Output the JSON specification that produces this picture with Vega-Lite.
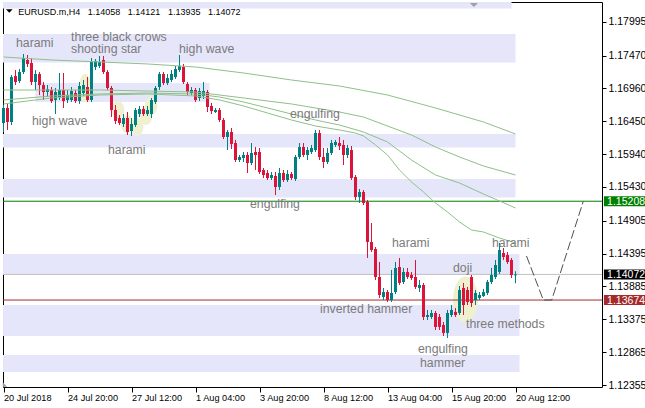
{
  "$schema": "https://vega.github.io/schema/vega-lite/v6.json",
  "width": 599,
  "height": 385,
  "autosize": {"type": "none"},
  "padding": {"left": 3, "top": 2, "right": 43, "bottom": 21},
  "background": "white",
  "config": {"font": "Liberation Sans", "view": {"stroke": "#000000", "strokeWidth": 1}},
  "datasets": {
    "bands": [
      {"x0": -1, "x1": 127, "y0": 1.18200, "y1": 1.18320},
      {"x0": -1, "x1": 128, "y0": 1.17362, "y1": 1.17804},
      {"x0": 8, "x1": 51.5, "y0": 1.16749, "y1": 1.17044},
      {"x0": -1, "x1": 128, "y0": 1.16042, "y1": 1.16252},
      {"x0": -1, "x1": 128, "y0": 1.15266, "y1": 1.15553},
      {"x0": -1, "x1": 129, "y0": 1.14063, "y1": 1.14389},
      {"x0": -1, "x1": 129, "y0": 1.13116, "y1": 1.13597},
      {"x0": -1, "x1": 129, "y0": 1.12557, "y1": 1.12821}
    ],
    "candles": [
      {"i":0,"o":1.16422,"h":1.16702,"l":1.16283,"c":1.16656},
      {"i":1,"o":1.16656,"h":1.16718,"l":1.16314,"c":1.16438},
      {"i":2,"o":1.16438,"h":1.17167,"l":1.16391,"c":1.17136},
      {"i":3,"o":1.17152,"h":1.17245,"l":1.17012,"c":1.17059},
      {"i":4,"o":1.17074,"h":1.17261,"l":1.17043,"c":1.17214},
      {"i":5,"o":1.17214,"h":1.17494,"l":1.17183,"c":1.17432},
      {"i":6,"o":1.17401,"h":1.17478,"l":1.17292,"c":1.17339},
      {"i":7,"o":1.17354,"h":1.17432,"l":1.17012,"c":1.17059},
      {"i":8,"o":1.17059,"h":1.17245,"l":1.16935,"c":1.17183},
      {"i":9,"o":1.17183,"h":1.17214,"l":1.16857,"c":1.17012},
      {"i":10,"o":1.17012,"h":1.17059,"l":1.16780,"c":1.16904},
      {"i":11,"o":1.16904,"h":1.17012,"l":1.16826,"c":1.16950},
      {"i":12,"o":1.16935,"h":1.16981,"l":1.16733,"c":1.16764},
      {"i":13,"o":1.16780,"h":1.16966,"l":1.16562,"c":1.16904},
      {"i":14,"o":1.16826,"h":1.17199,"l":1.16780,"c":1.16935},
      {"i":15,"o":1.16935,"h":1.17199,"l":1.16656,"c":1.16764},
      {"i":16,"o":1.16780,"h":1.16935,"l":1.16733,"c":1.16857},
      {"i":17,"o":1.16780,"h":1.16981,"l":1.16749,"c":1.16919},
      {"i":18,"o":1.16888,"h":1.16935,"l":1.16733,"c":1.16764},
      {"i":19,"o":1.16764,"h":1.17059,"l":1.16718,"c":1.16997},
      {"i":20,"o":1.16888,"h":1.17090,"l":1.16842,"c":1.17012},
      {"i":21,"o":1.16981,"h":1.17136,"l":1.16749,"c":1.16780},
      {"i":22,"o":1.16780,"h":1.17432,"l":1.16749,"c":1.17370},
      {"i":23,"o":1.17292,"h":1.17416,"l":1.17245,"c":1.17385},
      {"i":24,"o":1.17308,"h":1.17463,"l":1.17277,"c":1.17370},
      {"i":25,"o":1.17401,"h":1.17463,"l":1.17183,"c":1.17214},
      {"i":26,"o":1.17214,"h":1.17245,"l":1.16935,"c":1.16966},
      {"i":27,"o":1.16966,"h":1.16997,"l":1.16515,"c":1.16624},
      {"i":28,"o":1.16624,"h":1.16702,"l":1.16407,"c":1.16453},
      {"i":29,"o":1.16500,"h":1.16546,"l":1.16391,"c":1.16422},
      {"i":30,"o":1.16407,"h":1.16562,"l":1.16360,"c":1.16500},
      {"i":31,"o":1.16500,"h":1.16593,"l":1.16236,"c":1.16283},
      {"i":32,"o":1.16298,"h":1.16500,"l":1.16221,"c":1.16407},
      {"i":33,"o":1.16391,"h":1.16656,"l":1.16360,"c":1.16624},
      {"i":34,"o":1.16562,"h":1.16687,"l":1.16515,"c":1.16640},
      {"i":35,"o":1.16640,"h":1.16687,"l":1.16531,"c":1.16562},
      {"i":36,"o":1.16562,"h":1.16687,"l":1.16531,"c":1.16624},
      {"i":37,"o":1.16562,"h":1.16811,"l":1.16500,"c":1.16780},
      {"i":38,"o":1.16749,"h":1.16997,"l":1.16718,"c":1.16966},
      {"i":39,"o":1.16981,"h":1.17214,"l":1.16935,"c":1.17183},
      {"i":40,"o":1.17183,"h":1.17214,"l":1.17012,"c":1.17043},
      {"i":41,"o":1.17043,"h":1.17183,"l":1.17012,"c":1.17121},
      {"i":42,"o":1.17090,"h":1.17245,"l":1.17059,"c":1.17183},
      {"i":43,"o":1.17136,"h":1.17308,"l":1.17105,"c":1.17261},
      {"i":44,"o":1.17245,"h":1.17478,"l":1.17214,"c":1.17308},
      {"i":45,"o":1.17292,"h":1.17339,"l":1.17028,"c":1.17059},
      {"i":46,"o":1.17028,"h":1.17059,"l":1.16857,"c":1.16904},
      {"i":47,"o":1.16888,"h":1.16981,"l":1.16857,"c":1.16935},
      {"i":48,"o":1.16935,"h":1.16966,"l":1.16749,"c":1.16780},
      {"i":49,"o":1.16811,"h":1.16966,"l":1.16764,"c":1.16919},
      {"i":50,"o":1.16842,"h":1.17059,"l":1.16795,"c":1.16919},
      {"i":51,"o":1.16904,"h":1.16935,"l":1.16593,"c":1.16671},
      {"i":52,"o":1.16687,"h":1.16733,"l":1.16562,"c":1.16608},
      {"i":53,"o":1.16593,"h":1.16656,"l":1.16577,"c":1.16624},
      {"i":54,"o":1.16624,"h":1.16656,"l":1.16438,"c":1.16469},
      {"i":55,"o":1.16469,"h":1.16500,"l":1.16174,"c":1.16205},
      {"i":56,"o":1.16205,"h":1.16314,"l":1.16003,"c":1.16283},
      {"i":57,"o":1.16283,"h":1.16345,"l":1.16019,"c":1.16097},
      {"i":58,"o":1.16112,"h":1.16159,"l":1.15817,"c":1.15848},
      {"i":59,"o":1.15848,"h":1.15926,"l":1.15817,"c":1.15895},
      {"i":60,"o":1.15879,"h":1.15972,"l":1.15817,"c":1.15926},
      {"i":61,"o":1.15926,"h":1.15972,"l":1.15646,"c":1.15801},
      {"i":62,"o":1.15801,"h":1.16112,"l":1.15770,"c":1.15957},
      {"i":63,"o":1.15972,"h":1.16050,"l":1.15693,"c":1.15926},
      {"i":64,"o":1.15972,"h":1.16034,"l":1.15631,"c":1.15662},
      {"i":65,"o":1.15693,"h":1.15724,"l":1.15569,"c":1.15615},
      {"i":66,"o":1.15646,"h":1.15693,"l":1.15538,"c":1.15569},
      {"i":67,"o":1.15569,"h":1.15662,"l":1.15538,"c":1.15615},
      {"i":68,"o":1.15600,"h":1.15662,"l":1.15304,"c":1.15429},
      {"i":69,"o":1.15429,"h":1.15724,"l":1.15382,"c":1.15646},
      {"i":70,"o":1.15646,"h":1.15693,"l":1.15507,"c":1.15538},
      {"i":71,"o":1.15538,"h":1.15693,"l":1.15507,"c":1.15631},
      {"i":72,"o":1.15631,"h":1.15662,"l":1.15538,"c":1.15569},
      {"i":73,"o":1.15553,"h":1.15926,"l":1.15522,"c":1.15895},
      {"i":74,"o":1.15895,"h":1.16112,"l":1.15864,"c":1.16050},
      {"i":75,"o":1.16050,"h":1.16112,"l":1.15895,"c":1.15926},
      {"i":76,"o":1.15926,"h":1.16050,"l":1.15848,"c":1.16003},
      {"i":77,"o":1.15972,"h":1.16081,"l":1.15941,"c":1.16034},
      {"i":78,"o":1.16003,"h":1.16314,"l":1.15972,"c":1.16267},
      {"i":79,"o":1.16267,"h":1.16314,"l":1.15848,"c":1.15895},
      {"i":80,"o":1.15895,"h":1.16034,"l":1.15724,"c":1.15817},
      {"i":81,"o":1.15817,"h":1.16034,"l":1.15786,"c":1.15957},
      {"i":82,"o":1.15957,"h":1.16159,"l":1.15926,"c":1.16112},
      {"i":83,"o":1.16081,"h":1.16159,"l":1.16050,"c":1.16128},
      {"i":84,"o":1.16112,"h":1.16205,"l":1.16003,"c":1.16065},
      {"i":85,"o":1.16081,"h":1.16159,"l":1.15770,"c":1.15926},
      {"i":86,"o":1.15926,"h":1.16081,"l":1.15879,"c":1.16034},
      {"i":87,"o":1.16003,"h":1.16065,"l":1.15538,"c":1.15569},
      {"i":88,"o":1.15584,"h":1.15615,"l":1.15227,"c":1.15274},
      {"i":89,"o":1.15274,"h":1.15398,"l":1.15180,"c":1.15351},
      {"i":90,"o":1.15351,"h":1.15382,"l":1.15149,"c":1.15180},
      {"i":91,"o":1.15196,"h":1.15227,"l":1.14327,"c":1.14575},
      {"i":92,"o":1.14575,"h":1.14870,"l":1.14420,"c":1.14451},
      {"i":93,"o":1.14467,"h":1.14498,"l":1.13985,"c":1.14032},
      {"i":94,"o":1.14032,"h":1.14265,"l":1.13706,"c":1.13753},
      {"i":95,"o":1.13722,"h":1.13861,"l":1.13675,"c":1.13799},
      {"i":96,"o":1.13799,"h":1.13830,"l":1.13644,"c":1.13675},
      {"i":97,"o":1.13675,"h":1.14141,"l":1.13644,"c":1.13784},
      {"i":98,"o":1.13799,"h":1.14265,"l":1.13768,"c":1.14172},
      {"i":99,"o":1.14187,"h":1.14327,"l":1.13908,"c":1.13939},
      {"i":100,"o":1.13954,"h":1.14172,"l":1.13923,"c":1.14110},
      {"i":101,"o":1.14110,"h":1.14172,"l":1.14001,"c":1.14032},
      {"i":102,"o":1.14063,"h":1.14110,"l":1.13985,"c":1.14016},
      {"i":103,"o":1.14032,"h":1.14296,"l":1.13846,"c":1.13877},
      {"i":104,"o":1.13861,"h":1.13985,"l":1.13799,"c":1.13908},
      {"i":105,"o":1.13908,"h":1.13939,"l":1.13364,"c":1.13411},
      {"i":106,"o":1.13411,"h":1.13520,"l":1.13364,"c":1.13442},
      {"i":107,"o":1.13411,"h":1.13520,"l":1.13380,"c":1.13473},
      {"i":108,"o":1.13473,"h":1.13504,"l":1.13209,"c":1.13256},
      {"i":109,"o":1.13411,"h":1.13458,"l":1.13209,"c":1.13256},
      {"i":110,"o":1.13287,"h":1.13333,"l":1.13116,"c":1.13163},
      {"i":111,"o":1.13163,"h":1.13520,"l":1.13085,"c":1.13473},
      {"i":112,"o":1.13442,"h":1.13597,"l":1.13411,"c":1.13520},
      {"i":113,"o":1.13489,"h":1.13551,"l":1.13411,"c":1.13442},
      {"i":114,"o":1.13473,"h":1.13892,"l":1.13442,"c":1.13830},
      {"i":115,"o":1.13861,"h":1.13939,"l":1.13442,"c":1.13597},
      {"i":116,"o":1.13830,"h":1.13877,"l":1.13597,"c":1.13644},
      {"i":117,"o":1.14032,"h":1.14063,"l":1.13566,"c":1.13628},
      {"i":118,"o":1.13675,"h":1.13830,"l":1.13597,"c":1.13784},
      {"i":119,"o":1.13706,"h":1.13799,"l":1.13675,"c":1.13753},
      {"i":120,"o":1.13737,"h":1.13846,"l":1.13722,"c":1.13799},
      {"i":121,"o":1.13784,"h":1.13985,"l":1.13753,"c":1.13954},
      {"i":122,"o":1.13954,"h":1.14172,"l":1.13923,"c":1.14063},
      {"i":123,"o":1.14032,"h":1.14296,"l":1.14001,"c":1.14218},
      {"i":124,"o":1.14110,"h":1.14560,"l":1.14079,"c":1.14451},
      {"i":125,"o":1.14404,"h":1.14482,"l":1.14296,"c":1.14342},
      {"i":126,"o":1.14373,"h":1.14420,"l":1.14234,"c":1.14265},
      {"i":127,"o":1.14296,"h":1.14327,"l":1.14016,"c":1.14063},
      {"i":128,"o":1.14058,"h":1.14121,"l":1.13935,"c":1.14072}
    ],
    "ma": [
      {"ma":"A","i":0,"p":1.17447},{"ma":"A","i":12,"p":1.17401},{"ma":"A","i":24,"p":1.17370},{"ma":"A","i":36,"p":1.17339},{"ma":"A","i":48,"p":1.17292},{"ma":"A","i":60,"p":1.17199},{"ma":"A","i":72,"p":1.17090},{"ma":"A","i":84,"p":1.16997},{"ma":"A","i":96,"p":1.16857},{"ma":"A","i":108,"p":1.16656},{"ma":"A","i":120,"p":1.16438},{"ma":"A","i":128,"p":1.16252},
      {"ma":"B","i":0,"p":1.16935},{"ma":"B","i":12,"p":1.16935},{"ma":"B","i":24,"p":1.16935},{"ma":"B","i":36,"p":1.16919},{"ma":"B","i":48,"p":1.16904},{"ma":"B","i":54,"p":1.16857},{"ma":"B","i":60,"p":1.16811},{"ma":"B","i":72,"p":1.16718},{"ma":"B","i":84,"p":1.16593},{"ma":"B","i":90,"p":1.16515},{"ma":"B","i":96,"p":1.16376},{"ma":"B","i":102,"p":1.16236},{"ma":"B","i":108,"p":1.16050},{"ma":"B","i":114,"p":1.15895},{"ma":"B","i":120,"p":1.15755},{"ma":"B","i":128,"p":1.15615},
      {"ma":"C","i":0,"p":1.16780},{"ma":"C","i":6,"p":1.16811},{"ma":"C","i":12,"p":1.16842},{"ma":"C","i":24,"p":1.16873},{"ma":"C","i":36,"p":1.16888},{"ma":"C","i":48,"p":1.16873},{"ma":"C","i":54,"p":1.16826},{"ma":"C","i":60,"p":1.16749},{"ma":"C","i":66,"p":1.16656},{"ma":"C","i":72,"p":1.16562},{"ma":"C","i":78,"p":1.16469},{"ma":"C","i":84,"p":1.16391},{"ma":"C","i":90,"p":1.16283},{"ma":"C","i":96,"p":1.16128},{"ma":"C","i":102,"p":1.15848},{"ma":"C","i":108,"p":1.15615},{"ma":"C","i":114,"p":1.15491},{"ma":"C","i":120,"p":1.15320},{"ma":"C","i":128,"p":1.15103},
      {"ma":"D","i":0,"p":1.16718},{"ma":"D","i":6,"p":1.16764},{"ma":"D","i":12,"p":1.16811},{"ma":"D","i":24,"p":1.16857},{"ma":"D","i":36,"p":1.16873},{"ma":"D","i":48,"p":1.16842},{"ma":"D","i":54,"p":1.16780},{"ma":"D","i":60,"p":1.16687},{"ma":"D","i":66,"p":1.16578},{"ma":"D","i":72,"p":1.16469},{"ma":"D","i":78,"p":1.16376},{"ma":"D","i":84,"p":1.16314},{"ma":"D","i":88,"p":1.16267},{"ma":"D","i":90,"p":1.16221},{"ma":"D","i":93,"p":1.16081},{"ma":"D","i":96,"p":1.15926},{"ma":"D","i":99,"p":1.15693},{"ma":"D","i":102,"p":1.15507},{"ma":"D","i":105,"p":1.15351},{"ma":"D","i":108,"p":1.15180},{"ma":"D","i":111,"p":1.15041},{"ma":"D","i":114,"p":1.14886},{"ma":"D","i":117,"p":1.14761},{"ma":"D","i":120,"p":1.14730},{"ma":"D","i":124,"p":1.14637},{"ma":"D","i":128,"p":1.14560}
    ],
    "levels": [
      {"kind": "upper", "p": 1.15208},
      {"kind": "bid", "p": 1.14072},
      {"kind": "lower", "p": 1.13674}
    ],
    "labels": [
      {"text": "harami", "i": 3.125, "p": 1.17610},
      {"text": "three black crows", "i": 16.875, "p": 1.17703},
      {"text": "shooting star", "i": 16.875, "p": 1.17502},
      {"text": "high wave", "i": 43.875, "p": 1.17510},
      {"text": "high wave", "i": 7.125, "p": 1.16391},
      {"text": "harami", "i": 26.125, "p": 1.15941},
      {"text": "engulfing", "i": 71.625, "p": 1.16500},
      {"text": "engulfing", "i": 61.625, "p": 1.15102},
      {"text": "harami", "i": 97.125, "p": 1.14498},
      {"text": "harami", "i": 122.125, "p": 1.14498},
      {"text": "inverted hammer", "i": 79.125, "p": 1.13480},
      {"text": "doji", "i": 112.375, "p": 1.14110},
      {"text": "three methods", "i": 115.625, "p": 1.13245},
      {"text": "engulfing", "i": 103.625, "p": 1.12847},
      {"text": "hammer", "i": 104.125, "p": 1.12639}
    ],
    "header": [
      {"i": 3.7, "p": 1.18099, "text": "EURUSD.m,H4\u00a0\u00a0 1.14058\u00a0\u00a0 1.14121\u00a0\u00a0 1.13935\u00a0\u00a0 1.14072"}
    ],
    "proj": [
      {"i": 130.75, "p": 1.14358},
      {"i": 134.95, "p": 1.13674},
      {"i": 137.05, "p": 1.13674},
      {"i": 144.95, "p": 1.15208}
    ],
    "blob1": [{"i": 20.4, "p": 1.16966}],
    "blob2": [
      {"i": 28.6, "p": 1.16624},
      {"i": 30.9, "p": 1.16407},
      {"i": 33.4, "p": 1.16360},
      {"i": 35.6, "p": 1.16531},
      {"i": 36.9, "p": 1.16687}
    ],
    "blob3": [{"i": 115.5, "p": 1.13683}],
    "marker": [{"i": 117.6, "p": 1.18254}],
    "headmark": [{"i": 1.45, "p": 1.18161}],
    "corner": [{"i": 0.375, "p": 1.12363}]
  },
  "layer": [
    {
      "data": {"name": "bands"},
      "mark": {"type": "rect", "color": "#E6E6FA", "clip": true},
      "encoding": {
        "x": {"field": "x0", "type": "quantitative", "title": null,
          "scale": {"domain": [-0.125, 149.625], "nice": false, "zero": false, "padding": 0},
          "axis": {"values": [0, 16, 32, 48, 64, 80, 96, 112, 128], "tickCount": 20,
            "labelExpr": "['20 Jul 2018','24 Jul 20:00','27 Jul 12:00','1 Aug 04:00','3 Aug 20:00','8 Aug 12:00','13 Aug 04:00','15 Aug 20:00','20 Aug 12:00'][round(datum.value/16)]",
            "labelAlign": "left", "labelBaseline": "top", "labelPadding": 1, "tickSize": 5, "tickColor": "#000000",
            "domain": false, "grid": false, "title": null, "labelFontSize": 9.2, "labelColor": "#000000",
            "labelFont": "Liberation Sans", "labelOverlap": false, "labelFlush": false, "labelBound": false}},
        "x2": {"field": "x1"},
        "y": {"field": "y0", "type": "quantitative", "title": null,
          "scale": {"domain": [1.12324, 1.18301], "nice": false, "zero": false, "padding": 0},
          "axis": {"orient": "right", "values": [1.17995, 1.1747, 1.1696, 1.1645, 1.1594, 1.1543, 1.14905, 1.14395, 1.13885, 1.13375, 1.12865, 1.12355], "tickCount": 30,
            "format": ".5f", "tickSize": 4, "tickColor": "#000000", "labelPadding": 2, "domain": false, "grid": false, "title": null,
            "labelFontSize": 10.5, "labelColor": "#000000", "labelFont": "Liberation Sans", "labelOverlap": false, "labelFlush": false, "labelBaseline": "middle"}},
        "y2": {"field": "y1"}
      }
    },
    {
      "data": {"name": "blob1"},
      "mark": {"type": "point", "filled": true, "opacity": 1, "color": "#EEF0CF", "shape": "M0,-1A0.43,1 0 1,1 0,1A0.43,1 0 1,1 0,-1Z", "size": 784},
      "encoding": {"x": {"field": "i", "type": "quantitative", "title": null}, "y": {"field": "p", "type": "quantitative", "title": null}}
    },
    {
      "data": {"name": "blob2"},
      "mark": {"type": "point", "filled": true, "opacity": 1, "color": "#EEF0CF", "shape": "M0,-1A0.7,1 0 1,1 0,1A0.7,1 0 1,1 0,-1Z", "size": 324},
      "encoding": {"x": {"field": "i", "type": "quantitative", "title": null}, "y": {"field": "p", "type": "quantitative", "title": null}}
    },
    {
      "data": {"name": "blob3"},
      "mark": {"type": "point", "filled": true, "opacity": 1, "color": "#EEF0CF", "shape": "M0,-1A0.54,1 0 1,1 0,1A0.54,1 0 1,1 0,-1Z", "size": 2116},
      "encoding": {"x": {"field": "i", "type": "quantitative", "title": null}, "y": {"field": "p", "type": "quantitative", "title": null}}
    },
    {
      "data": {"name": "levels"},
      "mark": {"type": "rule", "strokeWidth": 1},
      "encoding": {
        "y": {"field": "p", "type": "quantitative", "title": null},
        "color": {"condition": [{"test": "datum.kind === 'upper'", "value": "#008000"}, {"test": "datum.kind === 'lower'", "value": "#A52A2A"}], "value": "#C0C0C0"}
      }
    },
    {
      "data": {"name": "candles"},
      "mark": {"type": "rule", "strokeWidth": 1},
      "encoding": {
        "x": {"field": "i", "type": "quantitative", "title": null},
        "y": {"field": "l", "type": "quantitative", "title": null},
        "y2": {"field": "h"},
        "color": {"condition": {"test": "datum.c >= datum.o", "value": "#008080"}, "value": "#DC143C"}
      }
    },
    {
      "data": {"name": "candles"},
      "mark": {"type": "bar", "orient": "vertical", "width": 3},
      "encoding": {
        "x": {"field": "i", "type": "quantitative", "title": null},
        "y": {"field": "o", "type": "quantitative", "title": null},
        "y2": {"field": "c"},
        "color": {"condition": {"test": "datum.c >= datum.o", "value": "#008080"}, "value": "#DC143C"}
      }
    },
    {
      "data": {"name": "ma"},
      "mark": {"type": "line", "color": "#8FC08A", "strokeWidth": 1},
      "encoding": {
        "x": {"field": "i", "type": "quantitative", "title": null},
        "y": {"field": "p", "type": "quantitative", "title": null},
        "detail": {"field": "ma", "type": "nominal"}
      }
    },
    {
      "data": {"name": "labels"},
      "mark": {"type": "text", "align": "left", "baseline": "alphabetic", "fontSize": 12.3, "color": "#7B7B7B", "font": "Liberation Sans"},
      "encoding": {
        "x": {"field": "i", "type": "quantitative", "title": null},
        "y": {"field": "p", "type": "quantitative", "title": null},
        "text": {"field": "text", "type": "nominal"}
      }
    },
    {
      "data": {"name": "header"},
      "mark": {"type": "text", "align": "left", "baseline": "alphabetic", "fontSize": 9, "color": "#000000", "font": "Liberation Sans"},
      "encoding": {
        "x": {"field": "i", "type": "quantitative", "title": null},
        "y": {"field": "p", "type": "quantitative", "title": null},
        "text": {"field": "text", "type": "nominal"}
      }
    },
    {
      "data": {"name": "headmark"},
      "mark": {"type": "point", "filled": true, "opacity": 1, "color": "#000000", "shape": "M-1,-0.5L1,-0.5L0,0.5Z", "size": 45},
      "encoding": {"x": {"field": "i", "type": "quantitative", "title": null}, "y": {"field": "p", "type": "quantitative", "title": null}}
    },
    {
      "data": {"name": "marker"},
      "mark": {"type": "point", "filled": true, "opacity": 1, "color": "#A0A0A0", "shape": "M-1,-0.5L1,-0.5L0,0.5Z", "size": 64},
      "encoding": {"x": {"field": "i", "type": "quantitative", "title": null}, "y": {"field": "p", "type": "quantitative", "title": null}}
    },
    {
      "data": {"name": "corner"},
      "mark": {"type": "point", "filled": true, "opacity": 1, "color": "#A0A0A0", "shape": "M-1,1L-1,-1L1,1Z", "size": 20},
      "encoding": {"x": {"field": "i", "type": "quantitative", "title": null}, "y": {"field": "p", "type": "quantitative", "title": null}}
    },
    {
      "data": {"name": "proj"},
      "mark": {"type": "line", "color": "#505050", "strokeWidth": 1, "strokeDash": [9, 3]},
      "encoding": {
        "x": {"field": "i", "type": "quantitative", "title": null},
        "y": {"field": "p", "type": "quantitative", "title": null}
      }
    },
    {
      "data": {"name": "levels"},
      "mark": {"type": "bar", "orient": "horizontal", "height": 10},
      "encoding": {
        "x": {"datum": 150.1, "type": "quantitative", "title": null},
        "x2": {"datum": 160.6},
        "y": {"field": "p", "type": "quantitative", "title": null},
        "color": {"condition": [{"test": "datum.kind === 'upper'", "value": "#008000"}, {"test": "datum.kind === 'lower'", "value": "#A52A2A"}], "value": "#000000"}
      }
    },
    {
      "data": {"name": "levels"},
      "mark": {"type": "text", "align": "left", "baseline": "middle", "fontSize": 10.5, "color": "#FFFFFF", "font": "Liberation Sans", "dy": 0.5},
      "encoding": {
        "x": {"datum": 150.9, "type": "quantitative", "title": null},
        "y": {"field": "p", "type": "quantitative", "title": null},
        "text": {"field": "p", "type": "quantitative", "format": ".5f"}
      }
    }
  ]
}
